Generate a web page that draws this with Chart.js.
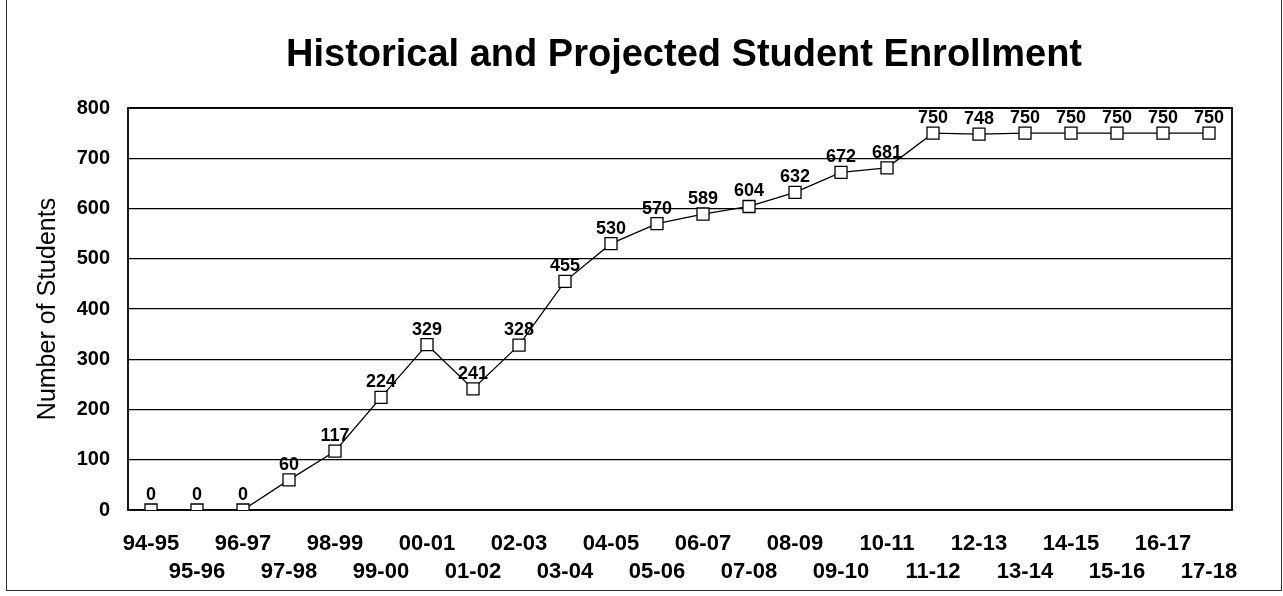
<!DOCTYPE html>
<html>
<head>
<meta charset="utf-8">
<title>Historical and Projected Student Enrollment</title>
<script src="https://cdn.jsdelivr.net/npm/chart.js@4/dist/chart.umd.min.js"></script>
<style>
  html, body { margin: 0; padding: 0; background: #fff; }
  #wrap { position: relative; width: 1283px; height: 596px; }
  #frame { position: absolute; left: 6px; top: -2px; width: 1274px; height: 591px; border: 1px solid #333; pointer-events: none; }
</style>
</head>
<body>
<div id="wrap">
  <canvas id="enrollChart" width="1283" height="596"></canvas>
  <div id="frame"></div>
</div>
<script>
const chartTitle = 'Historical and Projected Student Enrollment';
const years = ['94-95', '95-96', '96-97', '97-98', '98-99', '99-00', '00-01', '01-02',
  '02-03', '03-04', '04-05', '05-06', '06-07', '07-08', '08-09', '09-10',
  '10-11', '11-12', '12-13', '13-14', '14-15', '15-16', '16-17', '17-18'];
const students = [0, 0, 0, 60, 117, 224, 329, 241, 328, 455, 530, 570, 589, 604,
  632, 672, 681, 750, 748, 750, 750, 750, 750, 750];
const yTicks = [0, 100, 200, 300, 400, 500, 600, 700, 800];

const FONT = 'Arial, "Liberation Sans", sans-serif';

// title centred over the plot area rather than the whole canvas
const plotTitle = {
    id: 'plotTitle',
    afterDraw(chart) {
        const a = chart.chartArea;
        const ctx = chart.ctx;
        ctx.save();
        ctx.font = 'bold 38px ' + FONT;
        ctx.fillStyle = '#000';
        ctx.textAlign = 'center';
        ctx.textBaseline = 'alphabetic';
        ctx.fillText(chartTitle, (a.left + a.right) / 2 + 4, 66);
        ctx.restore();
    }
};

// value labels above each marker
const pointLabels = {
    id: 'pointLabels',
    afterDatasetsDraw(chart) {
        const ctx = chart.ctx;
        const meta = chart.getDatasetMeta(0);
        ctx.save();
        ctx.font = 'bold 18px ' + FONT;
        ctx.fillStyle = '#000';
        ctx.textAlign = 'center';
        ctx.textBaseline = 'alphabetic';
        meta.data.forEach((pt, i) => {
            ctx.fillText(String(students[i]), pt.x, pt.y - 10);
        });
        ctx.restore();
    }
};

// black outline round the plot area
const plotBox = {
    id: 'plotBox',
    beforeDatasetsDraw(chart) {
        const a = chart.chartArea;
        const ctx = chart.ctx;
        ctx.save();
        ctx.strokeStyle = '#000';
        ctx.lineWidth = 1.8;
        ctx.strokeRect(a.left, a.top, a.right - a.left, a.bottom - a.top);
        ctx.restore();
    }
};

new Chart(document.getElementById('enrollChart'), {
    type: 'line',
    data: {
        labels: years,
        datasets: [{
            label: 'Students',
            data: students,
            borderColor: '#000',
            borderWidth: 1.3,
            backgroundColor: '#fff',
            pointStyle: 'rect',
            pointRadius: 8.5,
            pointBorderColor: '#000',
            pointBorderWidth: 1.3,
            pointBackgroundColor: '#fff',
            tension: 0
        }]
    },
    options: {
        responsive: false,
        animation: false,
        layout: { padding: { top: 108, left: 33.5, right: 51, bottom: 12 } },
        plugins: {
            legend: { display: false },
            tooltip: { enabled: false },
            title: { display: false }
        },
        scales: {
            x: {
                offset: true,
                afterFit: (axis) => { axis.height = 74; },
                grid: { display: false, drawTicks: false },
                border: { display: false },
                ticks: {
                    autoSkip: false,
                    maxRotation: 0,
                    padding: 19.5,
                    color: '#000',
                    font: { family: FONT, size: 22, weight: 'bold', lineHeight: 1.3 },
                    callback: (v, i) => (i % 2 === 0 ? years[i] : ['', years[i]])
                }
            },
            y: {
                min: 0,
                max: 800,
                afterFit: (axis) => { axis.width = 94.5; },
                afterBuildTicks: (axis) => { axis.ticks = yTicks.map(v => ({ value: v })); },
                grid: { color: '#000', lineWidth: 1.2, drawTicks: false },
                border: { display: false },
                ticks: {
                    padding: 18,
                    color: '#000',
                    font: { family: FONT, size: 20, weight: 'bold' }
                },
                title: {
                    display: true,
                    text: 'Number of Students',
                    color: '#000',
                    font: { family: FONT, size: 25, lineHeight: 1.2 },
                    padding: { top: 0, bottom: 13 }
                }
            }
        }
    },
    plugins: [plotBox, pointLabels, plotTitle]
});
</script>
</body>
</html>
